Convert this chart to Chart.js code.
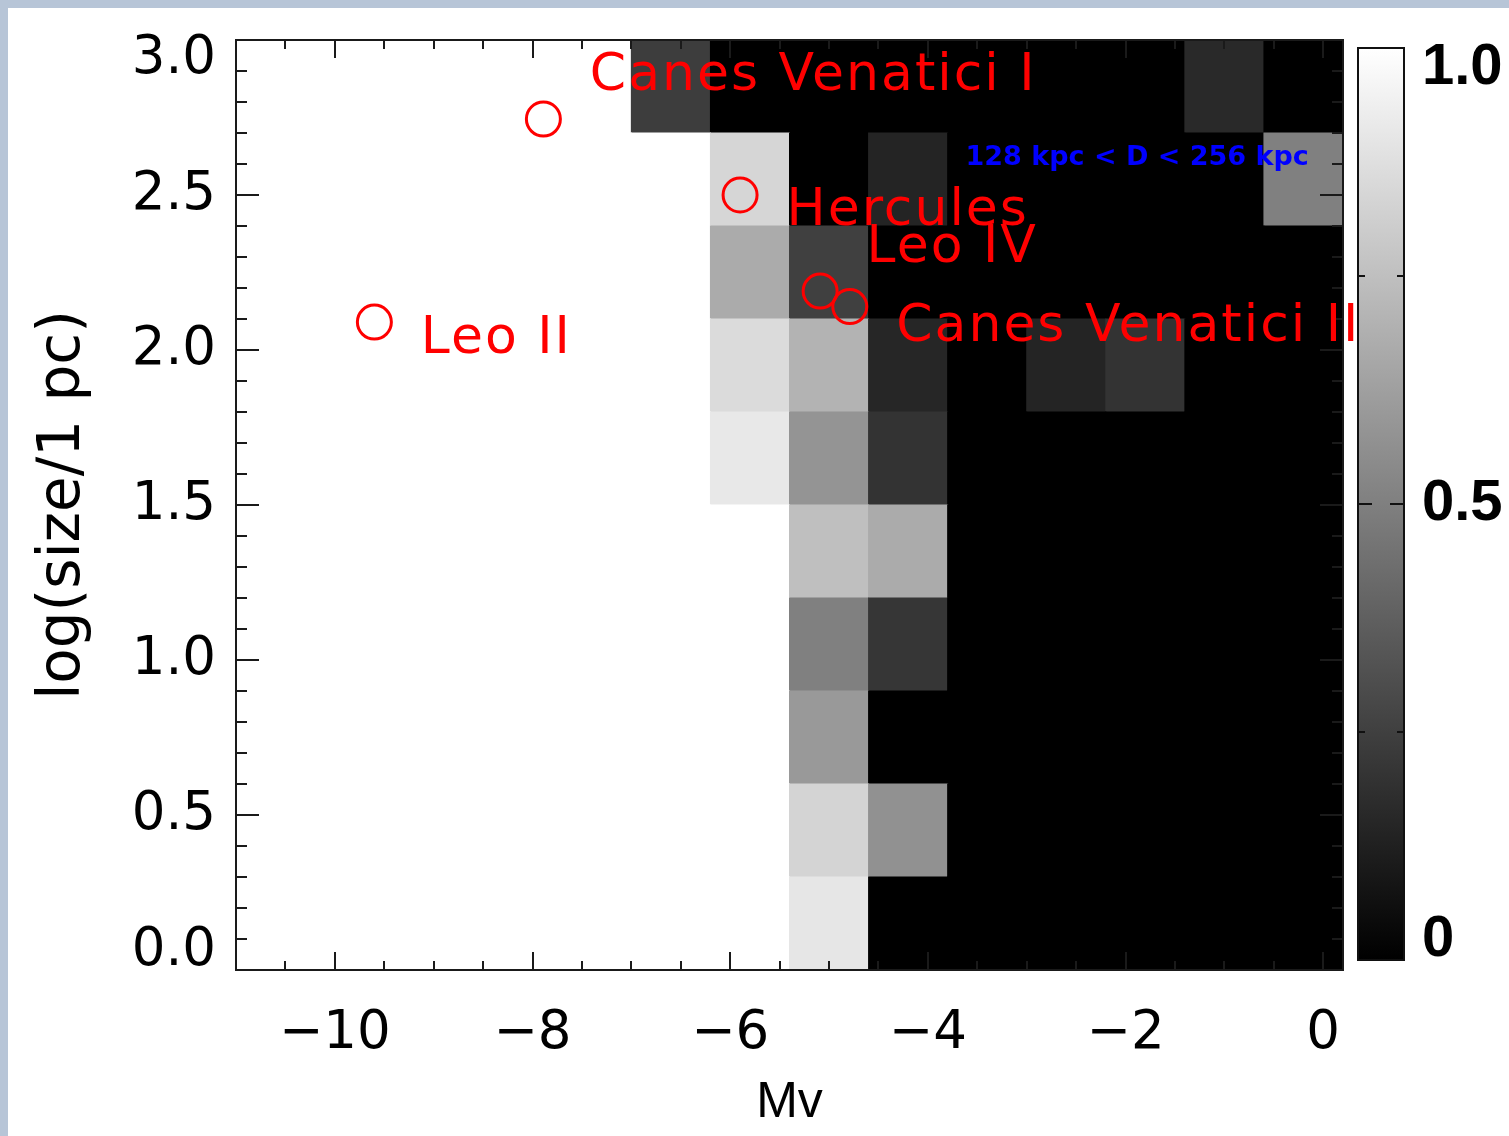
<!DOCTYPE html>
<html>
<head>
<meta charset="utf-8">
<script src="https://cdn.jsdelivr.net/npm/chart.js@4.4.1/dist/chart.umd.min.js"></script>
<style>
  html, body { margin:0; padding:0; width:1509px; height:1136px; overflow:hidden; background:#b7c5d7; }
  #panel { position:absolute; left:8px; top:8px; right:0; bottom:0; background:#ffffff; }
  #main { position:absolute; left:0; top:0; width:1509px; height:1136px; }
  #cbar { position:absolute; left:1340px; top:0; width:169px; height:1136px; }
</style>
</head>
<body>
<div id="panel"></div>
<canvas id="main" width="1509" height="1136"></canvas>
<canvas id="cbar" width="169" height="1136"></canvas>
<script>
// ---------------- data ----------------
const mvCenters = [-10.6, -9.8, -9.0, -8.2, -7.4, -6.6, -5.8, -5.0, -4.2, -3.4, -2.6, -1.8, -1.0, -0.2];
const logSizeEdges = [0.0, 0.3, 0.6, 0.9, 1.2, 1.5, 1.8, 2.1, 2.4, 2.7, 3.0];
// fraction per cell, rows from bottom (logsize 0.0-0.3) to top (2.7-3.0), columns follow mvCenters
const fractionRow0 = [1, 1, 1, 1, 1, 1, 1, 0.90, 0,    0, 0,    0,    0,    0];
const fractionRow1 = [1, 1, 1, 1, 1, 1, 1, 0.83, 0.57, 0, 0,    0,    0,    0];
const fractionRow2 = [1, 1, 1, 1, 1, 1, 1, 0.60, 0,    0, 0,    0,    0,    0];
const fractionRow3 = [1, 1, 1, 1, 1, 1, 1, 0.50, 0.21, 0, 0,    0,    0,    0];
const fractionRow4 = [1, 1, 1, 1, 1, 1, 1, 0.75, 0.67, 0, 0,    0,    0,    0];
const fractionRow5 = [1, 1, 1, 1, 1, 1, 0.91, 0.58, 0.20, 0, 0,  0,    0,    0];
const fractionRow6 = [1, 1, 1, 1, 1, 1, 0.86, 0.70, 0.15, 0, 0.14, 0.20, 0,  0];
const fractionRow7 = [1, 1, 1, 1, 1, 1, 0.67, 0.25, 0,    0, 0,    0,    0,    0];
const fractionRow8 = [1, 1, 1, 1, 1, 1, 0.84, 0,    0.14, 0, 0,    0,    0,    0.50];
const fractionRow9 = [1, 1, 1, 1, 1, 0.24, 0, 0,    0,    0, 0,    0,    0.16, 0];
const fractionRows = [fractionRow0, fractionRow1, fractionRow2, fractionRow3, fractionRow4,
                      fractionRow5, fractionRow6, fractionRow7, fractionRow8, fractionRow9];

const galaxyNames   = ['Leo II', 'Canes Venatici I', 'Hercules', 'Leo IV', 'Canes Venatici II'];
const galaxyMv      = [-9.60, -7.89, -5.90, -5.09, -4.79];
const galaxyLogSize = [2.09, 2.745, 2.50, 2.19, 2.14];

const xTickValues = [-10, -8, -6, -4, -2, 0];
const yTickValues = [0, 0.5, 1.0, 1.5, 2.0, 2.5, 3.0];
const colorbarTickValues = [0, 0.5, 1];
const distanceLabel = '128 kpc < D < 256 kpc';

// ---------------- styling / layout (not data) ----------------
const X_MIN = -11, X_MAX = 0.2, Y_MIN = 0, Y_MAX = 3;
const labelDx = 0.47;
const labelDy = [-0.10, 0.094, -0.097, 0.094, -0.11];
const distanceLabelAt = { x: -3.62, y: 2.597 };

function gray(v) {
  const g = Math.round(255 * v);
  return 'rgb(' + g + ',' + g + ',' + g + ')';
}

const heatDatasets = fractionRows.map((row, i) => ({
  type: 'bar',
  label: 'row' + i,
  data: mvCenters.map((mv) => ({ x: mv, y: [logSizeEdges[i], logSizeEdges[i + 1]] })),
  backgroundColor: row.map(gray),
  borderWidth: 0,
  barPercentage: 1,
  categoryPercentage: 1,
  grouped: false,
  inflateAmount: 0.5
}));

const circleDataset = {
  type: 'scatter',
  label: 'galaxies',
  data: galaxyMv.map((mv, i) => ({ x: mv, y: galaxyLogSize[i] })),
  pointRadius: 17,
  pointHoverRadius: 17,
  pointBorderWidth: 3,
  borderColor: '#ff0000',
  backgroundColor: 'rgba(0,0,0,0)',
  pointStyle: 'circle'
};

function noEdgePadding(s) {
  s.paddingTop = 0; s.paddingBottom = 0; s.paddingLeft = 0; s.paddingRight = 0;
}

const axesFrame = {
  id: 'axesFrame',
  afterDatasetsDraw(chart) {
    const { ctx, chartArea: a, scales: { x, y } } = chart;
    ctx.save();
    ctx.strokeStyle = '#1a1a1a';
    ctx.lineWidth = 2;
    ctx.beginPath();
    for (let k = -21; k <= 0; k++) {
      const v = k * 0.5;
      const px = Math.round(x.getPixelForValue(v));
      const L = (k % 4 === 0) ? 18 : 9;
      ctx.moveTo(px, a.bottom); ctx.lineTo(px, a.bottom - L);
      ctx.moveTo(px, a.top); ctx.lineTo(px, a.top + L);
    }
    for (let k = 0; k <= 30; k++) {
      const py = Math.round(y.getPixelForValue(k / 10));
      const L = (k % 5 === 0) ? 23 : 11;
      ctx.moveTo(a.left, py); ctx.lineTo(a.left + L, py);
      ctx.moveTo(a.right, py); ctx.lineTo(a.right - L, py);
    }
    ctx.stroke();
    ctx.strokeRect(a.left, a.top, a.right - a.left, a.bottom - a.top);
    ctx.restore();
  },
  afterDraw(chart) {
    const { ctx, scales: { x, y } } = chart;
    ctx.save();
    ctx.fillStyle = '#ff0000';
    ctx.font = '52px "DejaVu Sans"';
    try { ctx.letterSpacing = '2px'; } catch (e) {}
    ctx.textAlign = 'left';
    ctx.textBaseline = 'alphabetic';
    galaxyNames.forEach((name, i) => {
      ctx.fillText(name, x.getPixelForValue(galaxyMv[i] + labelDx), y.getPixelForValue(galaxyLogSize[i] + labelDy[i]));
    });
    ctx.fillStyle = '#0000ff';
    ctx.font = 'bold 27px "DejaVu Sans"';
    try { ctx.letterSpacing = '0px'; } catch (e) {}
    ctx.fillText(distanceLabel, x.getPixelForValue(distanceLabelAt.x), y.getPixelForValue(distanceLabelAt.y));
    ctx.restore();
  }
};

new Chart(document.getElementById('main'), {
  type: 'bar',
  data: { datasets: [circleDataset].concat(heatDatasets) },
  options: {
    responsive: false,
    animation: false,
    devicePixelRatio: 1,
    events: [],
    layout: { padding: { left: 0, top: 40, right: 166, bottom: 0 } },
    plugins: { legend: { display: false }, tooltip: { enabled: false } },
    scales: {
      x: {
        type: 'linear', position: 'bottom', min: X_MIN, max: X_MAX, offset: false,
        afterFit(s) { s.height = 166; noEdgePadding(s); },
        afterBuildTicks(s) { s.ticks = xTickValues.map(v => ({ value: v })); },
        grid: { display: false, drawTicks: false },
        border: { display: false },
        ticks: {
          autoSkip: false, maxRotation: 0, minRotation: 0, padding: 32, color: '#000',
          font: { family: 'DejaVu Sans', size: 53 },
          callback: (v) => (v < 0 ? '\u2212' + Math.abs(v) : String(v))
        },
        title: {
          display: true, text: 'Mv', color: '#000',
          font: { family: 'Liberation Sans', size: 50 },
          padding: { top: 0, bottom: 3 }
        }
      },
      y: {
        type: 'linear', position: 'left', min: Y_MIN, max: Y_MAX,
        afterFit(s) { s.width = 236; noEdgePadding(s); },
        afterBuildTicks(s) { s.ticks = yTickValues.map(v => ({ value: v })); },
        grid: { display: false, drawTicks: false },
        border: { display: false },
        ticks: {
          padding: 20, color: '#000',
          font: { family: 'DejaVu Sans', size: 53, lineHeight: 0.72 },
          callback: (v) => {
            const t = Number(v).toFixed(1);
            if (v === Y_MIN) return [t, ''];
            if (v === Y_MAX) return ['', t];
            return t;
          }
        },
        title: {
          display: true, text: 'log(size/1 pc)', color: '#000',
          font: { family: 'DejaVu Sans', size: 58 },
          padding: { top: 29, bottom: 0 }
        }
      }
    }
  },
  plugins: [axesFrame]
});

// ---------------- colour bar ----------------
const colorbarMinorTicks = [0.25, 0.75];
const cbarFrame = {
  id: 'cbarFrame',
  afterDatasetsDraw(chart) {
    const { ctx, chartArea: a, scales: { y } } = chart;
    ctx.save();
    ctx.strokeStyle = '#111';
    ctx.lineWidth = 2;
    ctx.strokeRect(a.left, a.top, a.right - a.left, a.bottom - a.top);
    ctx.beginPath();
    colorbarMinorTicks.concat([0.5]).forEach(v => {
      const py = Math.round(y.getPixelForValue(v));
      const L = v === 0.5 ? 14 : 7;
      ctx.moveTo(a.left, py); ctx.lineTo(a.left + L, py);
      ctx.moveTo(a.right, py); ctx.lineTo(a.right - L, py);
    });
    ctx.stroke();
    ctx.restore();
  }
};

new Chart(document.getElementById('cbar'), {
  type: 'bar',
  data: {
    labels: [''],
    datasets: [{
      data: [1],
      borderWidth: 0,
      barPercentage: 1,
      categoryPercentage: 1,
      backgroundColor: (c) => {
        const a = c.chart.chartArea;
        if (!a) return '#888';
        const g = c.chart.ctx.createLinearGradient(0, a.bottom, 0, a.top);
        g.addColorStop(0, '#000000');
        g.addColorStop(1, '#ffffff');
        return g;
      }
    }]
  },
  options: {
    responsive: false,
    animation: false,
    devicePixelRatio: 1,
    events: [],
    layout: { padding: { left: 18, top: 48, right: 0, bottom: 176 } },
    plugins: { legend: { display: false }, tooltip: { enabled: false } },
    scales: {
      x: { display: false },
      y: {
        position: 'right', min: 0, max: 1,
        afterFit(s) { s.width = 105; noEdgePadding(s); },
        afterBuildTicks(s) { s.ticks = colorbarTickValues.map(v => ({ value: v })); },
        grid: { display: false, drawTicks: false },
        border: { display: false },
        ticks: {
          padding: 18, color: '#000',
          font: { family: 'Liberation Sans', size: 58, weight: 'bold', lineHeight: 0.7 },
          callback: (v) => {
            if (v === 1) return ['', '1.0'];
            if (v === 0) return ['0', ''];
            return Number(v).toFixed(1);
          }
        }
      }
    }
  },
  plugins: [cbarFrame]
});
</script>
</body>
</html>
